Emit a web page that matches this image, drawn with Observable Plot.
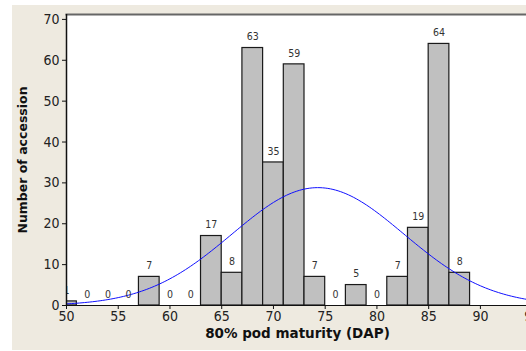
<!DOCTYPE html>
<html>
<head>
<meta charset="utf-8">
<script src="https://cdn.jsdelivr.net/npm/d3@7"></script>
<script src="https://cdn.jsdelivr.net/npm/@observablehq/plot@0.6"></script>
<style>
  html, body { margin: 0; padding: 0; background: #ffffff; overflow: hidden; width: 526px; height: 351px; }
  #panel { position: absolute; left: 12px; top: 5px; width: 530px; height: 345px; background: #EEEAE0; }
  #chart { position: absolute; left: 0; top: 0; width: 542px; height: 351px; }
  #chart svg { overflow: visible; max-width: none !important; width: 542px !important; height: 351px !important; }
</style>
</head>
<body>
<div id="panel"></div>
<div id="chart"></div>
<script>
// Histogram bins (centre of each 2-day bin) and counts
const binCenters = [50, 52, 54, 56, 58, 60, 62, 64, 66, 68, 70, 72, 74, 76, 78, 80, 82, 84, 86, 88];
const counts     = [ 1,  0,  0,  0,  7,  0,  0, 17,  8, 63, 35, 59,  7,  0,  5,  0,  7, 19, 64,  8];
const binWidth = 2;
// fitted normal curve parameters
const fitMean = 74.3;
const fitSd = 8.3;
const xTicks = [50, 55, 60, 65, 70, 75, 80, 85, 90, 95];
const yTicks = [0, 10, 20, 30, 40, 50, 60, 70];
const xTitle = "80% pod maturity (DAP)";
const yTitle = "Number of accession";

const bins = binCenters.map((c, i) => ({c, n: counts[i]}));
const total = d3.sum(counts);
const curve = d3.range(48, 97, 0.25).map(x => ({
  x,
  y: total * binWidth / (fitSd * Math.sqrt(2 * Math.PI)) * Math.exp(-((x - fitMean) ** 2) / (2 * fitSd * fitSd))
}));

const font = "'DejaVu Sans Condensed', 'DejaVu Sans', sans-serif";

const chart = Plot.plot({
  width: 542,
  height: 351,
  marginLeft: 66,
  marginTop: 14,
  marginBottom: 46,
  marginRight: 0,
  style: { background: "transparent", fontFamily: font, color: "#222" },
  x: { domain: [50, 96] },
  y: { domain: [0, 71.2] },
  marks: [
    Plot.frame({ fill: "white", stroke: null }),
    Plot.frame({ anchor: "top", stroke: "#666", strokeWidth: 2 }),
    Plot.rectY(bins.filter(d => d.n > 0), {
      x1: d => d.c - binWidth / 2, x2: d => d.c + binWidth / 2, y: "n",
      fill: "#C0C0C0", stroke: "#1a1a1a", strokeWidth: 1.2, clip: true
    }),
    Plot.line(curve, { x: "x", y: "y", stroke: "#1010ff", strokeWidth: 1, clip: true }),
    Plot.text(bins, {
      x: "c", y: "n", text: d => String(d.n), dy: -11,
      fontSize: 10.5, fill: "#333", clip: true, fontFamily: font
    }),
    Plot.ruleX([50], { stroke: "#111", strokeWidth: 1.5 }),
    Plot.ruleY([0], { stroke: "#111", strokeWidth: 1.2 }),
    Plot.axisX({
      ticks: xTicks, tickSize: 4, tickPadding: 2, fontSize: 14, stroke: "#111",
      label: null
    }),
    Plot.axisY({
      ticks: yTicks, tickSize: 4, tickPadding: 3, fontSize: 14, stroke: "#111",
      label: null
    }),
    Plot.text([xTitle], {
      frameAnchor: "bottom", dy: 32, dx: -7, text: d => d, textAnchor: "middle",
      fontSize: 13.5, fontWeight: "bold", fill: "#111", fontFamily: "'DejaVu Sans', sans-serif"
    }),
    Plot.text([yTitle], {
      frameAnchor: "left", dx: -44, rotate: -90, text: d => d, textAnchor: "middle",
      fontSize: 12.5, fontWeight: "bold", fill: "#111", fontFamily: "'DejaVu Sans', sans-serif"
    })
  ]
});
document.getElementById("chart").appendChild(chart);
</script>
</body>
</html>
